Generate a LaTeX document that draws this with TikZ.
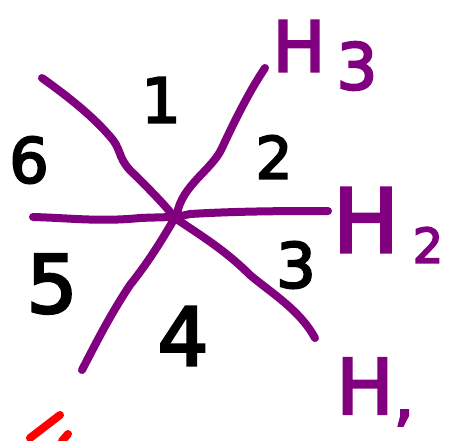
\documentclass[tikz,border=0pt]{standalone}
\usepackage{fontspec}
\setmainfont{DejaVu Sans}[BoldFont={DejaVu Sans},BoldFeatures={FakeBold=3.5}]
\definecolor{hpurple}{HTML}{800080}
\begin{document}
\begin{tikzpicture}[x=1pt,y=-1pt,
  hline/.style={draw=hpurple,line width=8pt,line cap=round,line join=round},
  num/.style={inner sep=0pt,font=\bfseries\fontsize{#1}{#1}\selectfont},
  lab/.style={inner sep=0pt,text=hpurple,font=\bfseries\fontsize{#1}{#1}\selectfont},
  redmark/.style={draw=red,line width=8pt,line cap=round}]
\useasboundingbox (0,0) rectangle (453,440);
% lines
\draw[hline] (42,78) .. controls (70,98) and (95,118) .. (113,140)
  .. controls (122,152) and (118,160) .. (135,175)
  .. controls (150,190) and (165,205) .. (175,218)
  .. controls (200,235) and (225,250) .. (250,275)
  .. controls (270,292) and (300,310) .. (315,338);
\draw[hline] (265,68) .. controls (250,90) and (235,120) .. (222,148)
  .. controls (212,170) and (182,185) .. (177,214)
  .. controls (165,235) and (150,260) .. (130,285)
  .. controls (110,315) and (95,345) .. (82,370);
\draw[hline] (33,217) .. controls (70,218) and (100,222) .. (140,218)
  .. controls (160,217) and (175,218) .. (190,214)
  .. controls (240,211) and (290,211) .. (328,211);
% numbers
\node[num=62] (n1) at (161,100) {1};
\node[num=58] (n2) at (274,157) {2};
\node[num=62] (n3) at (296,265) {3};
\node[num=80] (n4) at (183,336) {4};
\node[num=80] (n5) at (52,284) {5};
\node[num=62] (n6) at (29,160) {6};
% labels
\node[lab=70] (h3) at (299,46) {H};
\node[lab=64] (s3) at (357,66) {3};
\node[lab=88] (h2) at (366,220) {H};
\node[lab=48] (s2) at (428,245) {2};
\node[lab=76] (h1) at (365,386) {H};
\node[lab=64] (s1) at (404,418) {,};
% red mark
\draw[redmark] (30,438) -- (60,415);
\draw[redmark] (68,434) -- (62,441);
\end{tikzpicture}
\end{document}
